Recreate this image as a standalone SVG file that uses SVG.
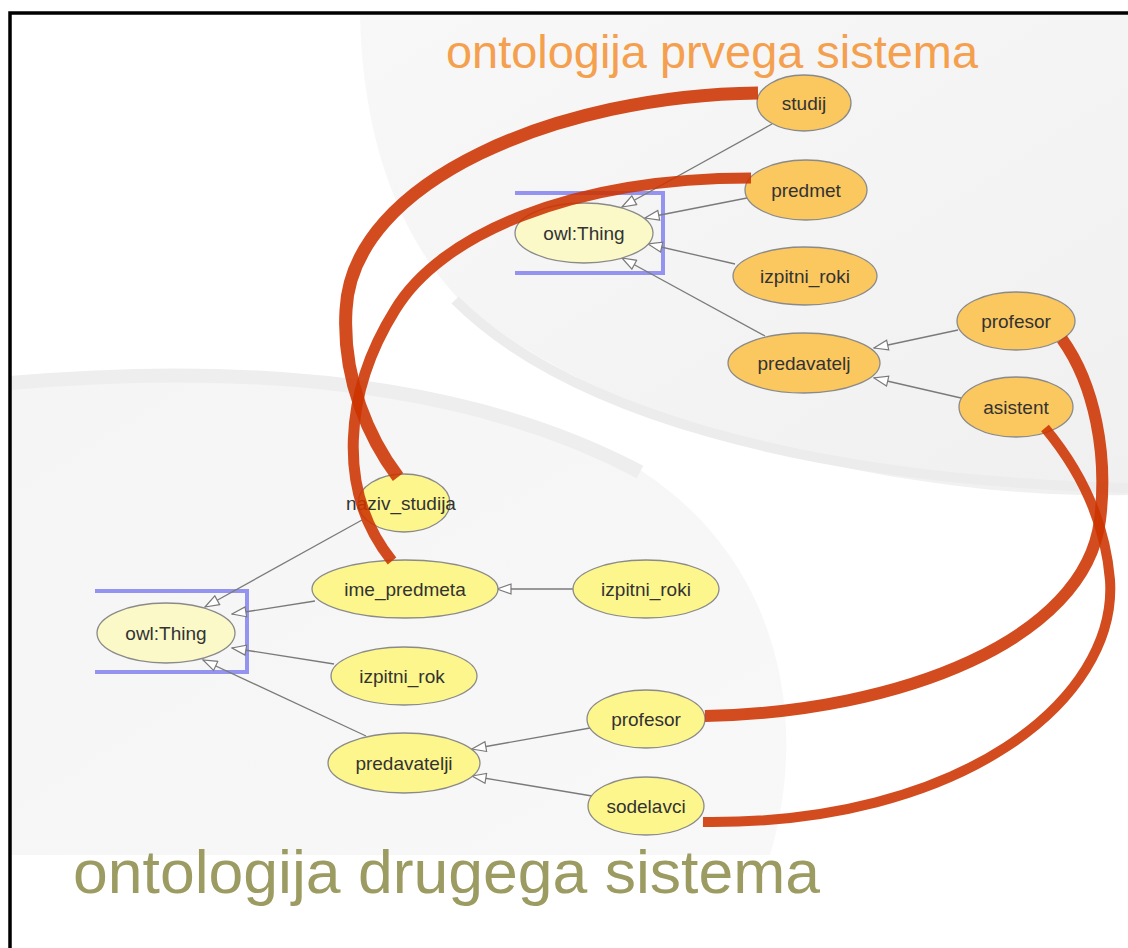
<svg xmlns="http://www.w3.org/2000/svg" width="1128" height="948" viewBox="0 0 1128 948">
<defs>
<style>
.n ellipse{stroke:#8a8a8a;stroke-width:1.3}
.o1 ellipse{fill:#fbc75f}
.o2 ellipse{fill:#fdf68c}
.root ellipse{fill:#fbf9c8}
.n text{font-family:"Liberation Sans",Arial,sans-serif;font-size:19px;fill:#333;text-anchor:middle}
.e{stroke:#7a7a7a;stroke-width:1.3;fill:none;marker-end:url(#tri)}
.m{stroke:#cc3300;fill:none;stroke-opacity:0.88;stroke-linecap:butt}
.br{stroke:#9494f0;stroke-width:4;fill:none}
</style>
<marker id="tri" viewBox="0 0 16 12" refX="15" refY="6" markerWidth="16" markerHeight="12" markerUnits="userSpaceOnUse" orient="auto">
<path d="M1,1 L15,6 L1,11 Z" fill="#fff" stroke="#7a7a7a" stroke-width="1.2"/>
</marker>
<linearGradient id="g1" x1="0" y1="0" x2="1" y2="1">
<stop offset="0" stop-color="#f8f8f8"/><stop offset="1" stop-color="#f0f0f0"/>
</linearGradient>
<linearGradient id="g2" x1="0" y1="0" x2="1" y2="1">
<stop offset="0" stop-color="#f5f5f5"/><stop offset="1" stop-color="#f8f8f8"/>
</linearGradient>
</defs>
<rect width="1128" height="948" fill="#fff"/>
<g id="background">
<path d="M360 14 L1128 14 L1128 495 C900 500 620 430 470 310 C395 240 362 130 360 14 Z" fill="url(#g1)"/>
<path d="M10 380 C230 360 500 385 640 470 C780 560 810 720 770 855 L10 855 Z" fill="url(#g2)"/>
<path d="M10 383 C250 362 470 382 640 472" stroke="#eeeeee" stroke-width="14" fill="none"/>
<path d="M455 300 C565 410 800 480 1128 488" stroke="#ececec" stroke-width="10" fill="none"/>
</g>
<path d="M10 948 L10 13 L1128 13" stroke="#000" stroke-width="3.5" fill="none"/>
<text x="446" y="68" font-family="Liberation Sans,Arial,sans-serif" font-size="46" fill="#f4a04e" textLength="532" lengthAdjust="spacingAndGlyphs">ontologija prvega sistema</text>
<text x="73" y="893" font-family="Liberation Sans,Arial,sans-serif" font-size="62" fill="#9b9b62" textLength="747" lengthAdjust="spacingAndGlyphs">ontologija drugega sistema</text>
<g id="brackets">
<path class="br" d="M515 193 L663 193 L663 273 L515 273"/>
<path class="br" d="M95 591 L247 591 L247 672 L95 672"/>
</g>
<g id="edges">
<line class="e" x1="772" y1="124" x2="622" y2="207"/>
<line class="e" x1="747" y1="198" x2="645" y2="218"/>
<line class="e" x1="735" y1="264" x2="648" y2="244"/>
<line class="e" x1="765" y1="336" x2="622" y2="258"/>
<line class="e" x1="958" y1="330" x2="874" y2="348"/>
<line class="e" x1="961" y1="398" x2="874" y2="378"/>
<line class="e" x1="362" y1="520" x2="205" y2="607"/>
<line class="e" x1="315" y1="601" x2="232" y2="614"/>
<line class="e" x1="334" y1="664" x2="232" y2="648"/>
<line class="e" x1="366" y1="736" x2="203" y2="660"/>
<line class="e" x1="573" y1="589" x2="497" y2="589"/>
<line class="e" x1="590" y1="728" x2="472" y2="749"/>
<line class="e" x1="592" y1="796" x2="472" y2="776"/>
</g>
<g id="top-ontology">
<g id="t-owl" class="n root"><ellipse cx="584" cy="233" rx="69" ry="30"/><text x="584" y="240">owl:Thing</text></g>
<g id="t-studij" class="n o1"><ellipse cx="804" cy="103" rx="47" ry="28"/><text x="804" y="110">studij</text></g>
<g id="t-predmet" class="n o1"><ellipse cx="806" cy="190" rx="61" ry="30"/><text x="806" y="197">predmet</text></g>
<g id="t-izpitni" class="n o1"><ellipse cx="805" cy="276" rx="72" ry="29"/><text x="805" y="283">izpitni_roki</text></g>
<g id="t-predavatelj" class="n o1"><ellipse cx="804" cy="363" rx="76" ry="30"/><text x="804" y="370">predavatelj</text></g>
<g id="t-profesor" class="n o1"><ellipse cx="1016" cy="321" rx="59" ry="29"/><text x="1016" y="328">profesor</text></g>
<g id="t-asistent" class="n o1"><ellipse cx="1016" cy="407" rx="57" ry="30"/><text x="1016" y="414">asistent</text></g>
</g>
<g id="bottom-ontology">
<g id="b-owl" class="n root"><ellipse cx="166" cy="633" rx="69" ry="30"/><text x="166" y="640">owl:Thing</text></g>
<g id="b-naziv" class="n o2"><ellipse cx="404" cy="503" rx="46" ry="29"/><text x="401" y="510">naziv_studija</text></g>
<g id="b-ime" class="n o2"><ellipse cx="405" cy="589" rx="93" ry="29"/><text x="405" y="596">ime_predmeta</text></g>
<g id="b-izpitni-roki" class="n o2"><ellipse cx="646" cy="589" rx="73" ry="29"/><text x="646" y="596">izpitni_roki</text></g>
<g id="b-izpitni-rok" class="n o2"><ellipse cx="404" cy="676" rx="73" ry="29"/><text x="402" y="683">izpitni_rok</text></g>
<g id="b-predavatelji" class="n o2"><ellipse cx="404" cy="763" rx="76" ry="30"/><text x="404" y="770">predavatelji</text></g>
<g id="b-profesor" class="n o2"><ellipse cx="646" cy="719" rx="59" ry="29"/><text x="646" y="726">profesor</text></g>
<g id="b-sodelavci" class="n o2"><ellipse cx="646" cy="806" rx="58" ry="29"/><text x="646" y="813">sodelavci</text></g>
</g>
<g id="mappings">
<path class="m" stroke-width="13" d="M758 93 C560 95 352 180 346 310 C342 380 370 440 398 477"/>
<path class="m" stroke-width="11" d="M751 178 C570 178 440 235 395 310 C345 390 335 490 392 561"/>
<path class="m" stroke-width="12" d="M1062 339 C1095 385 1108 455 1100 520 C1085 640 900 712 705 716"/>
<path class="m" stroke-width="10" d="M1045 428 C1080 470 1105 520 1110 580 C1118 700 960 825 703 822"/>
</g>
</svg>
